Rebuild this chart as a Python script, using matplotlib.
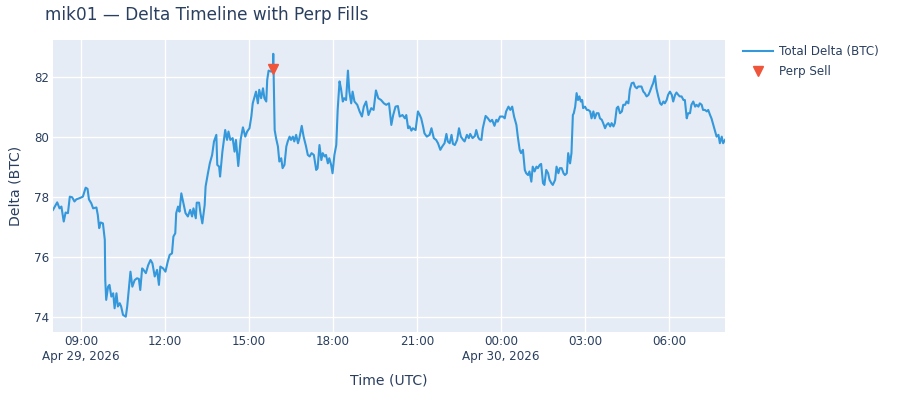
import numpy as np
import matplotlib
matplotlib.use("Agg")
import matplotlib.pyplot as plt
import matplotlib.dates as mdates
from matplotlib.lines import Line2D

# minutes after 2026-04-29 08:00 UTC, and total delta in BTC
minutes = [
    0, 9, 14, 18, 23, 27, 32, 36, 41, 46, 50, 57, 64, 70, 74, 77, 82, 86, 93, 96,
    99, 102, 107, 111, 112, 114, 118, 121, 125, 129, 132, 136, 139, 143, 146, 150, 156, 159, 161, 166,
    170, 175, 180, 184, 187, 191, 194, 199, 204, 209, 213, 218, 223, 227, 230, 236, 241, 246, 250, 255,
    258, 262, 264, 268, 271, 275, 278, 284, 289, 294, 298, 301, 306, 308, 313, 316, 320, 325, 327, 332,
    336, 341, 345, 350, 352, 356, 358, 363,
    369, 373, 376, 380, 385, 389, 392, 397, 402, 407, 412, 416, 421, 425, 428, 432, 435, 439, 442, 446,
    450, 453, 457, 459, 462, 467, 471, 472, 475, 478, 482, 485, 489, 492, 496, 500, 503, 507, 510, 514,
    517, 521, 525, 528, 533, 537, 542, 546, 550, 554, 559, 564, 567, 571, 575, 578, 582, 585, 589, 592,
    596, 599, 603, 607, 610, 614, 617, 621, 624, 628, 632, 635, 639, 642, 646, 652, 657, 662, 666, 671,
    676, 682, 687, 692, 697, 703, 709,
    714, 720, 725, 729, 734, 739, 743, 749, 754, 757, 761, 764, 768, 771, 777, 782, 786, 789, 793, 796,
    801, 807, 811, 816, 821, 825, 830, 834, 839, 843, 846, 850, 854, 857, 861, 866, 870, 874, 879, 882,
    887, 891, 894, 899, 904, 907, 911, 914, 918, 921, 927, 932, 937, 941, 946, 950, 953, 958, 964, 968,
    971, 976, 980, 984, 988, 993, 996, 1000, 1003, 1007, 1011, 1014, 1018, 1021, 1025, 1028, 1032, 1036, 1039, 1043,
    1046, 1050, 1053, 1057, 1061, 1064, 1068, 1071,
    1076, 1079, 1083, 1086, 1090, 1094, 1097, 1101, 1104, 1108, 1111, 1114, 1116, 1119, 1122, 1125, 1128, 1131, 1134, 1136,
    1140, 1144, 1147, 1151, 1154, 1158, 1161, 1165, 1169, 1172, 1176, 1179, 1183, 1186, 1190, 1194, 1197, 1201, 1204, 1208,
    1211, 1215, 1219, 1222, 1226, 1229, 1233, 1236, 1240, 1244, 1247, 1251, 1254, 1258, 1261, 1265, 1268, 1272, 1276, 1279,
    1283, 1286, 1290, 1293, 1297, 1301, 1304, 1308, 1311, 1315, 1318, 1322, 1326, 1329, 1333, 1336, 1340, 1343, 1347, 1351,
    1354, 1358, 1361, 1365, 1368, 1372, 1376, 1379, 1383, 1386, 1390, 1393, 1397, 1401, 1404, 1408, 1411, 1415, 1418, 1422,
    1426, 1429, 1433, 1436, 1440,
]
delta = [
    77.58, 77.83, 77.63, 77.69, 77.19, 77.49, 77.47, 78.02, 78.00, 77.86, 77.93, 77.97, 78.02, 78.32, 78.28, 77.93, 77.80, 77.63, 77.66, 77.41,
    76.97, 77.16, 77.13, 76.58, 75.24, 74.58, 75.02, 75.08, 74.69, 74.80, 74.30, 74.80, 74.36, 74.47, 74.36, 74.08, 74.02, 74.36, 74.69, 75.52,
    75.02, 75.24, 75.30, 75.28, 74.91, 75.63, 75.58, 75.47, 75.74, 75.91, 75.80, 75.36, 75.58, 75.08, 75.69, 75.63, 75.52, 75.86, 76.08, 76.13,
    76.69, 76.80, 77.47, 77.69, 77.52, 78.13, 77.91, 77.47, 77.36, 77.58, 77.36, 77.63, 77.30, 77.82, 77.82, 77.47, 77.13, 77.74, 78.36, 78.80,
    79.13, 79.41, 79.86, 80.08, 79.08, 79.02, 78.69, 79.52,
    80.24, 79.91, 80.19, 79.91, 79.97, 79.52, 79.91, 79.04, 79.91, 80.33, 80.02, 80.19, 80.30, 80.69, 81.13, 81.36, 81.52, 81.13, 81.58, 81.30,
    81.63, 81.30, 81.19, 81.91, 82.22, 82.19, 82.19, 82.78, 80.24, 79.97, 79.69, 79.19, 79.30, 78.97, 79.08, 79.69, 79.86, 80.02, 79.91, 80.02,
    79.86, 80.08, 79.80, 79.97, 80.38, 80.02, 79.71, 79.41, 79.36, 79.47, 79.41, 78.91, 78.97, 79.74, 79.24, 79.47, 79.36, 79.41, 79.13, 79.30,
    79.08, 78.80, 79.41, 79.74, 80.91, 81.86, 81.63, 81.19, 81.30, 81.24, 82.22, 81.52, 81.13, 81.52, 81.19, 81.08, 80.86, 80.69, 81.02, 81.19,
    80.74, 80.97, 80.91, 81.56, 81.30, 81.24, 81.13,
    81.08, 81.13, 80.41, 80.74, 81.02, 81.04, 80.69, 80.74, 80.63, 80.74, 80.30, 80.36, 80.22, 80.30, 80.24, 80.86, 80.74, 80.63, 80.36, 80.13,
    80.02, 80.08, 80.30, 79.97, 79.91, 79.80, 79.58, 79.69, 79.80, 80.11, 79.86, 79.80, 80.08, 79.78, 79.74, 79.91, 80.30, 80.02, 79.91, 79.86,
    80.08, 79.97, 80.11, 79.97, 80.04, 80.24, 80.00, 79.93, 79.91, 80.30, 80.71, 80.63, 80.52, 80.58, 80.38, 80.58, 80.52, 80.69, 80.69, 80.63,
    80.86, 81.02, 80.91, 81.02, 80.69, 80.41, 80.02, 79.58, 79.47, 79.58, 78.91, 78.80, 78.74, 78.86, 78.52, 79.02, 78.86, 79.02, 78.97, 79.08,
    79.11, 78.47, 78.41, 78.91, 78.80, 78.58, 78.47, 78.41,
    78.58, 79.02, 78.80, 78.97, 78.97, 78.80, 78.74, 78.80, 79.47, 79.13, 79.47, 80.74, 80.80, 81.02, 81.47, 81.24, 81.36, 81.19, 81.24, 80.97,
    81.02, 80.91, 80.91, 80.86, 80.63, 80.86, 80.63, 80.80, 80.80, 80.63, 80.58, 80.47, 80.30, 80.41, 80.47, 80.36, 80.47, 80.36, 80.47, 80.97,
    81.02, 80.80, 80.86, 81.08, 81.08, 81.19, 81.13, 81.58, 81.80, 81.82, 81.69, 81.63, 81.69, 81.69, 81.69, 81.52, 81.47, 81.36, 81.41, 81.52,
    81.69, 81.80, 82.04, 81.63, 81.36, 81.13, 81.08, 81.19, 81.13, 81.24, 81.41, 81.52, 81.41, 81.19, 81.41, 81.49, 81.41, 81.36, 81.36, 81.24,
    81.24, 80.63, 80.80, 80.80, 81.08, 81.19, 81.02, 81.08, 81.02, 81.13, 81.08, 80.91, 80.91, 80.86, 80.91, 80.74, 80.63, 80.41, 80.24, 80.02,
    80.08, 79.80, 80.02, 79.80, 79.91,
]

# perp fills
sell_minutes = [471]
sell_delta = [82.27]

start = np.datetime64("2026-04-29T08:00")
times = start + np.array(minutes).astype("timedelta64[m]")
sell_times = start + np.array(sell_minutes).astype("timedelta64[m]")

plt.rcParams['font.family'] = ['DejaVu Sans']
txt = '#2a3f5f'

fig = plt.figure(figsize=(9, 4), dpi=100)
ax = fig.add_axes([53 / 900, 68 / 400, 672 / 900, 292 / 400])
ax.set_facecolor('#e5ecf6')
for s in ax.spines.values():
    s.set_visible(False)
ax.grid(True, color='white', linewidth=1)
ax.set_axisbelow(True)

ax.plot(times, delta, color='#3498db', linewidth=1.5, zorder=3)
ax.plot(sell_times, sell_delta, linestyle='', marker='v', markersize=6.5,
        color='#ef553b', zorder=4)

ax.set_xlim(start, start + np.timedelta64(24, 'h'))
ax.set_ylim(73.51, 83.24)
ax.set_yticks([74, 76, 78, 80, 82])

ax.xaxis.set_major_locator(mdates.HourLocator(byhour=[0, 3, 6, 9, 12, 15, 18, 21]))


def fmt(x, pos=None):
    d = mdates.num2date(x)
    lab = d.strftime('%H:%M')
    if pos == 0 or d.hour == 0:
        lab += '\n' + d.strftime('%b %d, %Y').replace(' 0', ' ')
    return lab


ax.xaxis.set_major_formatter(plt.FuncFormatter(fmt))
ax.tick_params(axis='both', length=0, labelsize=8.6, colors=txt)
ax.tick_params(axis='x', pad=2)
ax.tick_params(axis='y', pad=3)

ax.set_xlabel('Time (UTC)', fontsize=10.1, color=txt, labelpad=8)
ax.set_ylabel('Delta (BTC)', fontsize=10.1, color=txt, labelpad=8)
fig.text(45 / 900, 1 - 15 / 400, 'mik01 — Delta Timeline with Perp Fills',
         fontsize=12.2, color=txt, va='center', ha='left')

handles = [Line2D([], [], color='#3498db', linewidth=1.5),
           Line2D([], [], linestyle='', marker='v', markersize=6.5, color='#ef553b')]
leg = fig.legend(handles, ['Total Delta (BTC)', 'Perp Sell'], loc='upper left',
                 bbox_to_anchor=(743 / 900, 1 - 45 / 400), frameon=False,
                 fontsize=8.6, handlelength=2.5, handletextpad=0.5,
                 labelspacing=0.6, borderaxespad=0, borderpad=0)
for t in leg.get_texts():
    t.set_color(txt)

fig.savefig('out.png', dpi=100)
